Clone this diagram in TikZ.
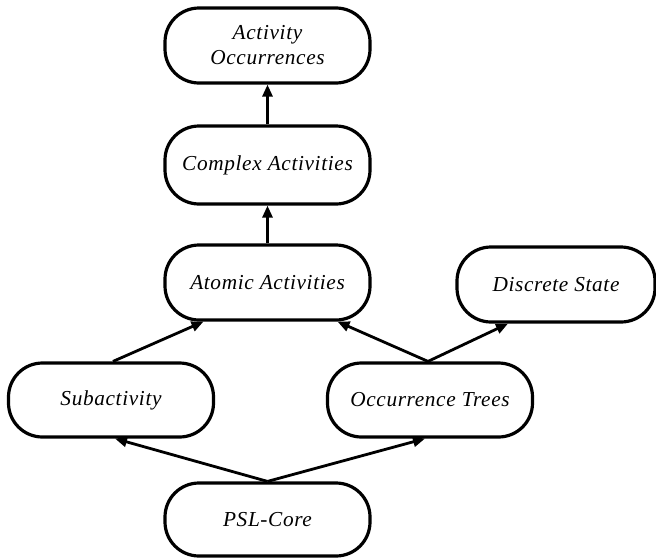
\documentclass[tikz,border=0pt]{standalone}
\usepackage{fontspec}
\setmainfont{Liberation Serif}
\usetikzlibrary{arrows.meta}
\begin{document}
\begin{tikzpicture}[x=1pt,y=-1pt,
  box/.style={draw=black, line width=3.2pt, rounded corners=34pt, fill=white,
    minimum width=205pt, minimum height=75pt, inner sep=0pt, align=center,
    font=\fontsize{21.3}{25}\selectfont\itshape\addfontfeature{LetterSpace=3}},
  conn/.style={line width=2.8pt, -{Triangle[length=12pt,width=10pt]}}]
\useasboundingbox (0,0) rectangle (656,557);
\node[box] (ao) at (267.5,45.5) {Activity\\Occurrences};
\node[box, minimum height=78pt] (complex) at (267.5,165) {Complex Activities};
\node[box] (atomic) at (267.5,282.5) {Atomic Activities};
\node[box, minimum width=198pt] (discrete) at (556,284.5) {Discrete State};
\node[box, minimum height=74pt] (sub) at (111,400) {Subactivity};
\node[box, minimum height=74pt] (occ) at (430,400) {Occurrence Trees};
\node[box, minimum height=73pt] (psl) at (267.5,519.5) {PSL-Core};
\draw[conn] (complex.north) -- (ao.south);
\draw[conn] (atomic.north) -- (complex.south);
\draw[conn] ([xshift=2pt]sub.north) -- ([xshift=-64pt]atomic.south);
\draw[conn] ([xshift=-2pt]occ.north) -- ([xshift=70pt]atomic.south);
\draw[conn] ([xshift=-2pt]occ.north) -- ([xshift=-48pt]discrete.south);
\draw[conn] (psl.north) -- ([xshift=4pt]sub.south);
\draw[conn] (psl.north) -- ([xshift=-5pt]occ.south);
\end{tikzpicture}
\end{document}
